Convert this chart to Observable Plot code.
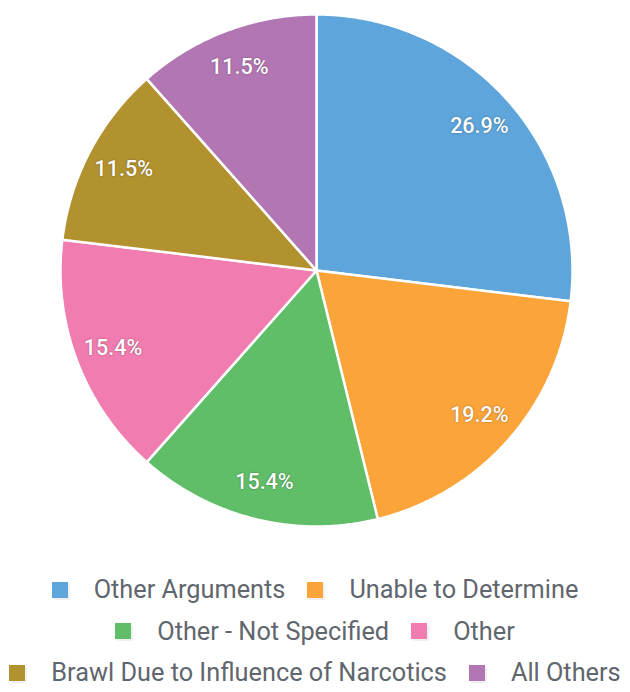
<!DOCTYPE html>
<html><head><meta charset="utf-8">
<script src="https://cdn.jsdelivr.net/npm/d3@7"></script>
<script src="https://cdn.jsdelivr.net/npm/@observablehq/plot@0.6"></script>
<style>
body{margin:0;background:#fff;font-family:Roboto,"Noto Sans",sans-serif;overflow:hidden;}
#legend{width:630px;padding-top:29px;}
.row{display:flex;justify-content:center;align-items:center;height:41.5px;gap:22px;}
.item{display:flex;align-items:center;font-size:25.3px;color:#5f666d;white-space:nowrap;}
.sw{width:16px;height:16px;margin-right:26px;box-shadow:2px 2px 0 rgba(0,0,0,0.06);flex:none;}
</style></head><body>
<div id="chart"></div>
<div id="legend"></div>
<script>
const categories = ["Other Arguments","Unable to Determine","Other - Not Specified","Other","Brawl Due to Influence of Narcotics","All Others"];
const counts = [7,5,4,4,3,3];
const colors = ["#5DA5DA","#FAA43A","#60BD68","#F17CB0","#B2912F","#B276B2"];
const legendRows = [[0,1],[2,3],[4,5]];

const total = d3.sum(counts);
const arcs = d3.pie().sort(null).value(d => d)(counts);
const slices = arcs.map((a, i) => {
  const pts = [[0,0]];
  const n = Math.max(2, Math.ceil((a.endAngle - a.startAngle) / 0.01));
  for (let k = 0; k <= n; k++) {
    const t = a.startAngle + (a.endAngle - a.startAngle) * k / n;
    pts.push([Math.sin(t), -Math.cos(t)]);
  }
  pts.push([0,0]);
  return {type:"Feature", properties:{name:categories[i], color:colors[i]}, geometry:{type:"Polygon", coordinates:[pts]}};
});
const labels = arcs.map((a, i) => {
  const m = (a.startAngle + a.endAngle) / 2, r = 0.85;
  return {x: r*Math.sin(m), y: -r*Math.cos(m), text: (counts[i]/total*100).toFixed(1) + "%"};
});

const chart = Plot.plot({
  width: 630, height: 540,
  marginLeft: 60, marginRight: 58, marginTop: 14, marginBottom: 14,
  projection: {type: "identity", domain: {type:"MultiPoint", coordinates:[[-1,-1],[1,1]]}},
  marks: [
    Plot.geo(slices, {fill: d => d.properties.color, stroke: "white", strokeWidth: 2.5, strokeLinejoin: "round"}),
    Plot.text(labels, {x: "x", y: "y", text: "text", fill: "white", fontSize: 21.5, fontWeight: 500,
      fontFamily: "Roboto"})
  ]
});
chart.querySelectorAll("text").forEach(t => t.style.textShadow = "0 0 2px rgba(0,0,0,0.4)");
document.getElementById("chart").appendChild(chart);

const leg = document.getElementById("legend");
legendRows.forEach(row => {
  const r = document.createElement("div"); r.className = "row";
  row.forEach(i => {
    const it = document.createElement("div"); it.className = "item";
    const sw = document.createElement("span"); sw.className = "sw"; sw.style.background = colors[i];
    it.appendChild(sw);
    it.appendChild(document.createTextNode(categories[i]));
    r.appendChild(it);
  });
  leg.appendChild(r);
});
</script>
</body></html>
